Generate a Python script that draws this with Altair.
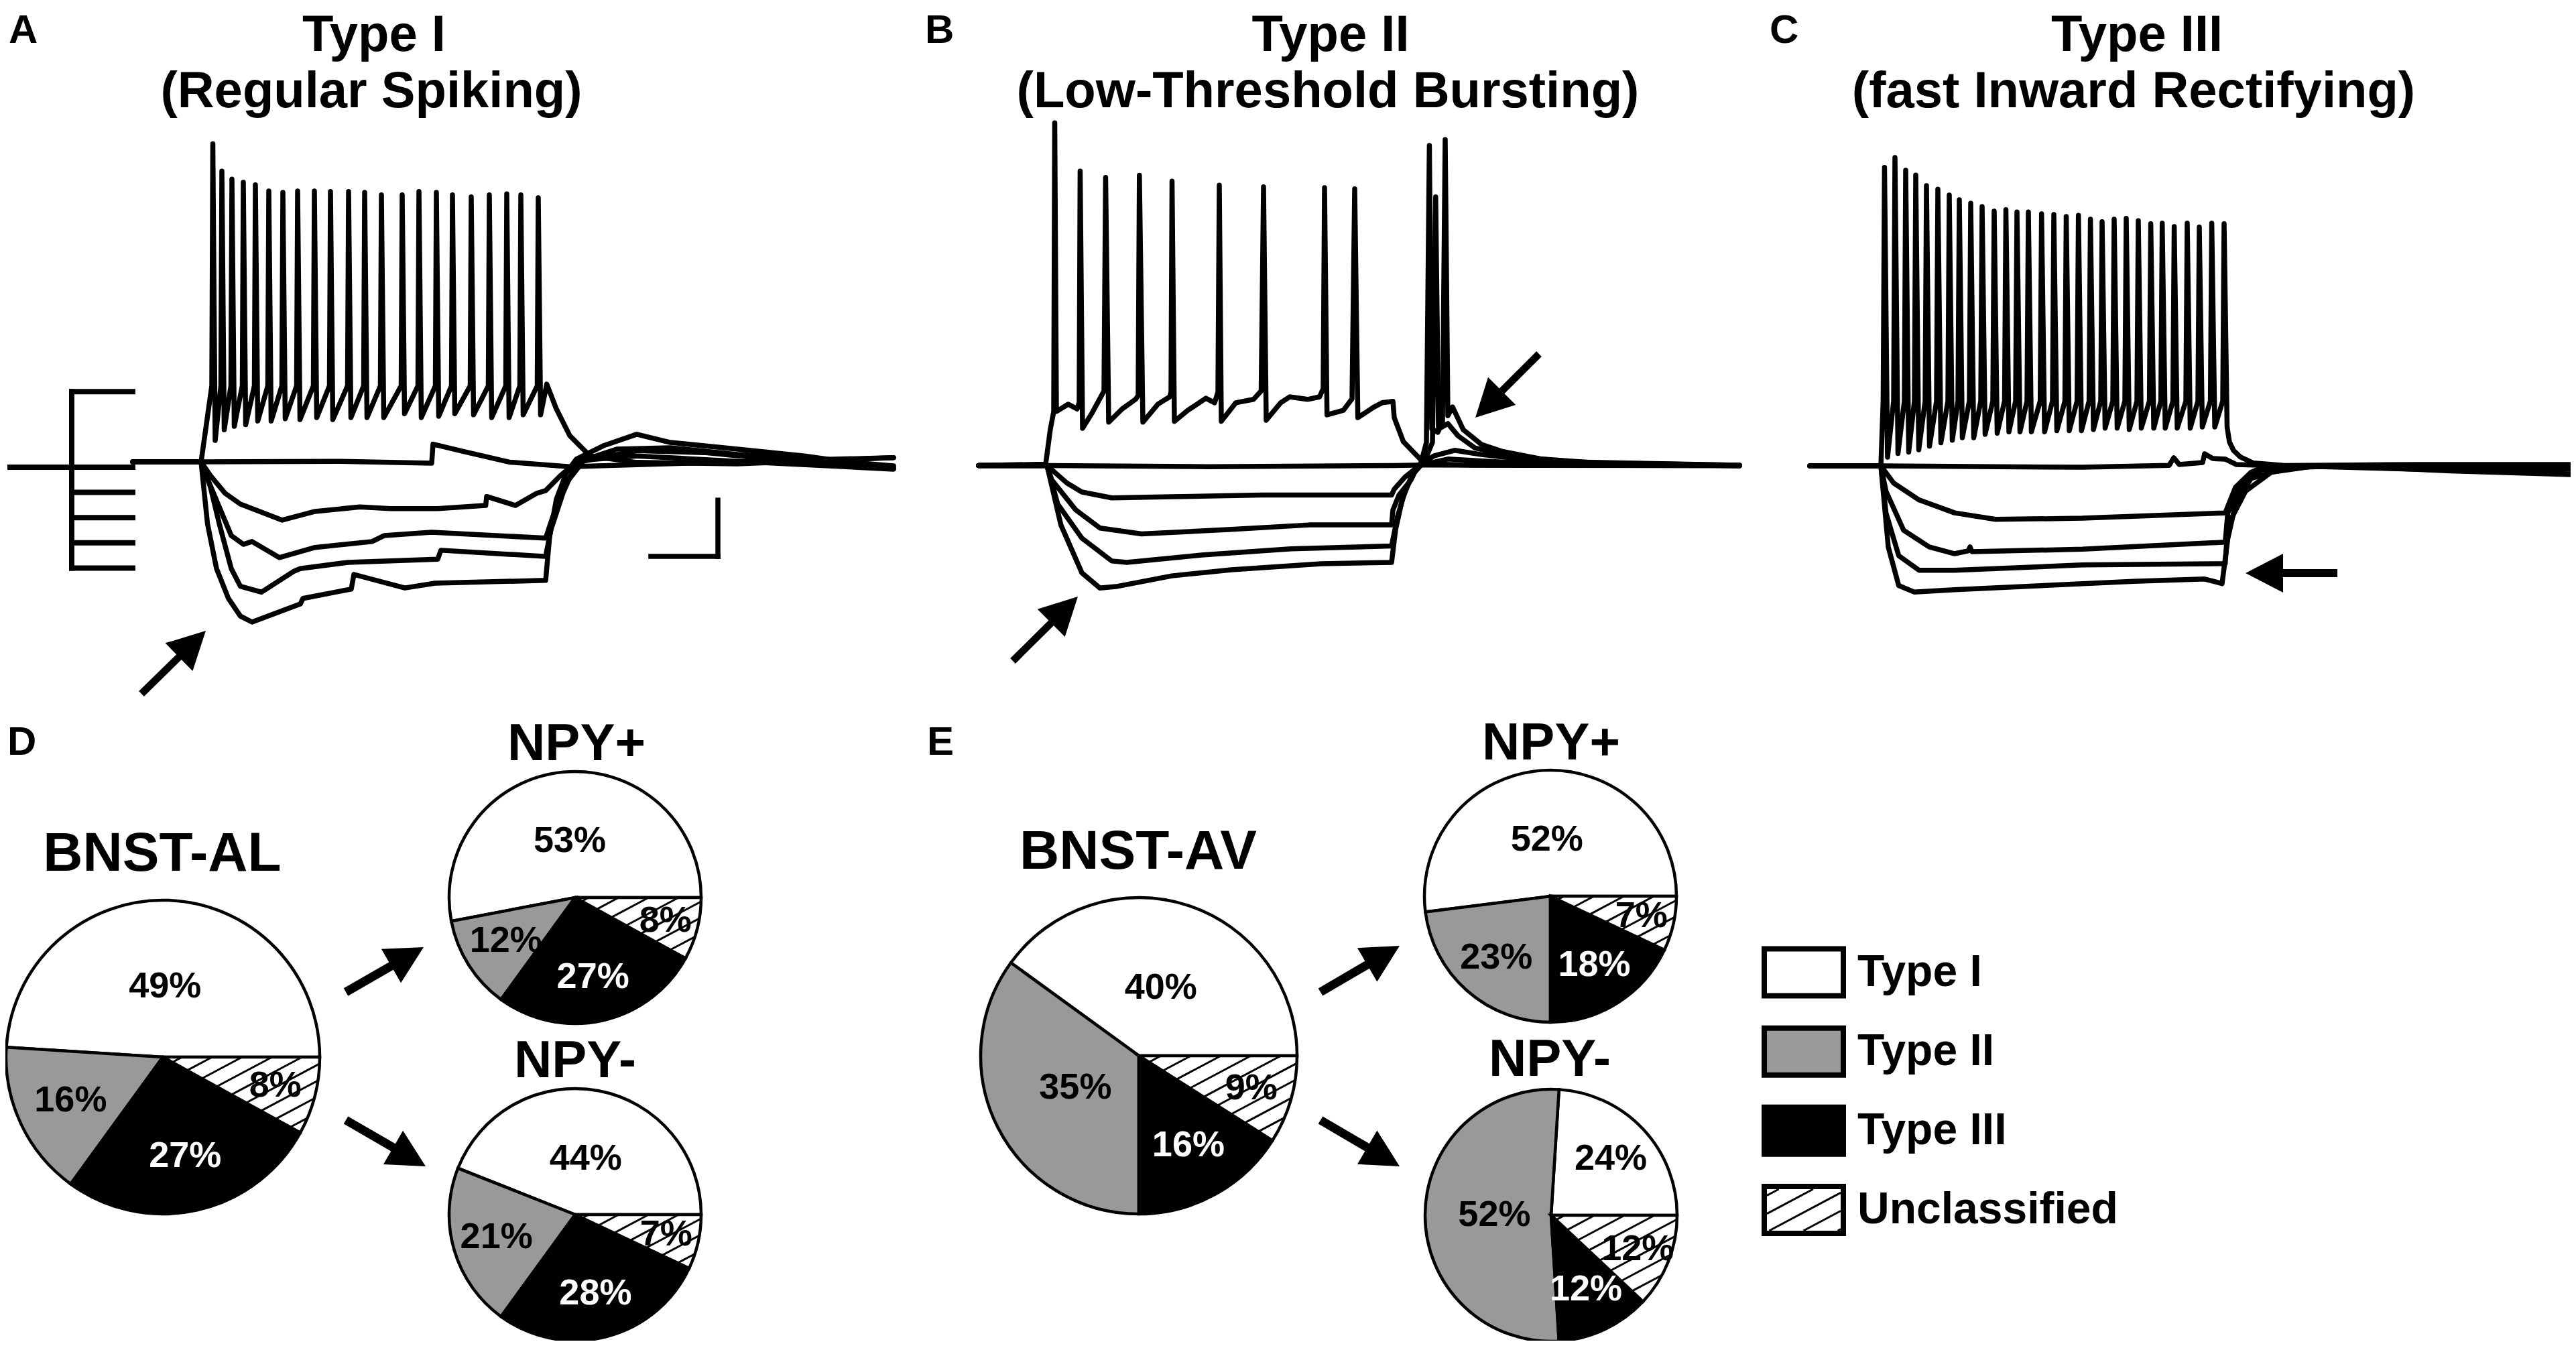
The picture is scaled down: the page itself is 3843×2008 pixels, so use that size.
import math
import altair as alt
import pandas as pd

# ====================== DATA ======================
# Current-clamp traces: t = ms from current-step onset, V = membrane potential (mV)

# ---- Panel A : Type I (regular spiking)
A_SPIKE_T = [17.5, 31, 46, 63, 81, 101, 122, 144, 169, 193, 220, 244, 269, 300, 325,
             351, 375, 403, 430, 456, 477, 503]
A_SPIKE_PEAK = [48.0, 38.3, 35.4, 34.3, 33.4, 31.2, 30.7, 31.2, 31.2, 31.0, 31.0, 30.7,
                29.8, 29.8, 31.0, 30.7, 29.8, 29.1, 29.8, 30.2, 29.8, 28.8]
A_SPIKE_AHP = [-57.4, -53.6, -52.4, -51.8, -50.5, -50.5, -49.7, -50.0, -49.3, -50.0, -49.3,
               -49.3, -49.3, -47.9, -49.3, -48.8, -47.9, -48.3, -49.3, -49.3, -48.3, -48.3]
A_SPIKE_THRESHOLD = -38.0
A_SPIKING_START = [(-102, -65.0), (0, -65.0)]
A_SPIKING_END = [(515.7, -37.4), (530, -46.2), (550, -55.7), (580, -62.9), (650, -65.2),
                 (800, -65.7), (1033, -63.5)]
A_SUBTHRESHOLD = [(-102, -65.0), (0, -65.0), (200, -64.8), (344, -65.5), (346, -58.7),
                  (393, -61.4), (460, -65.1), (550, -66.7), (650, -66.0), (800, -65.0),
                  (1033, -63.5)]
A_HYPER_1 = [(-102, -65.0), (0, -65.0), (14, -69.9), (36, -76.2), (58.6, -80.0), (121, -85.7),
             (170, -82.6), (237, -81.0), (282, -81.6), (353, -81.6), (424.6, -80.5),
             (426, -77.3), (469, -80.5), (500.5, -76.2), (514, -75.2), (536, -69.9),
             (563, -64.5), (650, -62.9), (800, -64.8), (1033, -67.6)]
A_HYPER_2 = [(-102, -65.0), (0, -65.0), (9.5, -71.0), (31.8, -83.7), (45, -91.2), (63, -94.3),
             (76, -93.3), (116.6, -99.0), (170, -95.4), (255, -93.3), (273, -91.2),
             (344, -90.0), (514, -92.1), (525, -84.3), (545, -72.4), (570, -64.8),
             (650, -61.0), (750, -61.7), (850, -64.0), (1033, -66.9)]
A_HYPER_3 = [(-102, -65.0), (0, -65.0), (14, -74.0), (27, -86.9), (45, -102.9), (58.6, -109.2),
             (90, -111.3), (139, -103.8), (148, -102.9), (219, -100.7), (353, -99.6),
             (357.7, -96.4), (514, -98.6), (522, -89.0), (540, -76.0), (560, -65.2),
             (620, -60.5), (700, -60.0), (800, -62.4), (900, -63.8), (1033, -66.4)]
A_HYPER_4 = [(-102, -65.0), (0, -65.0), (9.5, -86.9), (23, -102.9), (40.7, -113.5),
             (58.6, -119.8), (76, -121.9), (148, -115.5), (152, -113.5), (224, -110.2),
             (228, -105.0), (304, -109.8), (349, -108.1), (514, -107.1), (520, -91.4),
             (530, -78.3), (545, -68.8), (560, -64.0), (600, -59.3), (650, -55.2),
             (700, -58.1), (800, -60.5), (900, -62.9), (1033, -67.4)]
A_STEP_CURRENTS_PA = [150, 0, -50, -100, -150, -200]

# ---- Panel B : Type II (low-threshold bursting)
B_SPIKING = [(-102, -65.0), (-2, -64.5), (4.8, -52.3), (10, -45.8), (11.5, 56.7), (14, -45.8),
             (31.6, -43.2), (45, -44.9), (48, -42.5), (49.4, 39.6), (53, -51.8), (67, -46.4),
             (85, -38.5), (87.4, 37.3), (92, -49.6), (112, -44.9), (132, -41.5), (136, -40.1),
             (137.8, 38.1), (143, -49.6), (165.5, -43.2), (183, -40.6), (185, -38.9),
             (186.5, 36.0), (190, -49.3), (210, -45.4), (237, -41.1), (250, -42.7),
             (255, -38.9), (257, 34.6), (260, -49.3), (281.6, -42.7), (308, -41.5),
             (319.5, -38.5), (323, 34.0), (327, -48.9), (348.5, -42.7), (362, -40.6),
             (388.7, -41.5), (406.6, -40.6), (412, -37.7), (414, 33.7), (417.7, -47.0),
             (442, -45.4), (455, -41.3), (459, 33.3), (463.7, -48.0), (487, -44.3),
             (500, -42.7), (516, -42.2), (518, -48.0), (531.6, -56.5), (549, -60.8),
             (558, -63.0), (567, -64.4), (638, -64.9), (1033, -65.0)]
B_SUBTHRESHOLD = [(-102, -65.0), (0, -65.0), (240, -65.4), (400, -65.2), (518, -65.0),
                  (560, -64.8), (1033, -65.0)]
B_HYPER_1 = [(-102, -65.0), (0, -65.0), (29.6, -71.2), (52, -74.4), (96.6, -76.5),
             (186, -76.1), (320, -75.5), (514, -75.5), (518, -73.4), (534, -69.1),
             (556, -64.9), (598, -62.7), (658, -63.5), (738, -64.4), (1033, -65.0)]
B_HYPER_2 = [(-102, -65.0), (0, -65.0), (7, -70.1), (43, -80.8), (79, -87.2), (141, -89.3),
             (275, -87.7), (391, -86.1), (514, -86.1), (516, -80.8), (525, -75.5),
             (543, -70.1), (553, -65.1), (578, -61.5), (608, -59.6), (648, -61.1),
             (738, -63.5), (1033, -64.9)]
B_HYPER_3 = [(-102, -65.0), (0, -65.0), (16, -78.7), (52, -90.8), (96.6, -98.9), (119, -99.4),
             (230.5, -96.8), (364, -94.6), (514, -93.6), (523, -83.0), (535, -73.5),
             (548, -67.5), (563, -63.5), (575, -56.8), (579.8, 30.4), (584, -52.0),
             (598, -50.1), (613, -54.4), (638, -58.7), (688, -61.5), (788, -63.9),
             (1033, -64.9)]
B_HYPER_4 = [(-102, -65.0), (0, -65.0), (20.7, -86.1), (52, -103.1), (78.7, -108.5),
             (105.5, -107.9), (186, -104.2), (275, -102.0), (409, -99.9), (514, -99.4),
             (520, -87.8), (530, -77.0), (543, -69.2), (558, -63.9), (566, -56.8),
             (570.4, 48.7), (574, -52.0), (583, -53.2), (590, -49.6), (594, 50.8),
             (598, -47.3), (605, -44.2), (621, -52.3), (648, -57.5), (678, -59.9),
             (738, -62.7), (838, -64.4), (1033, -65.1)]

# ---- Panel C : Type III (fast inward rectifying)
C_SPIKE_T = [5.4, 21, 37, 52, 68, 85, 102, 117, 134, 151, 169, 186.5, 203, 220, 239.7,
             258, 276.5, 294.7, 312.6, 330, 348, 366, 384, 402.6, 419.7, 437.6, 457, 475,
             493.6, 512]
C_SPIKE_PEAK = [41.0, 44.5, 40.0, 38.3, 34.5, 33.3, 31.2, 29.5, 28.3, 27.1, 25.5, 26.0, 25.2,
                25.2, 24.5, 24.3, 23.6, 24.0, 22.6, 21.7, 22.6, 22.9, 22.1, 21.0, 21.2, 20.0,
                21.2, 19.8, 21.2, 21.0]
C_SPIKE_AHP = [-61.9, -60.6, -60.1, -59.3, -58.0, -56.8, -55.9, -55.0, -55.0, -53.8, -53.4,
               -52.9, -52.9, -52.9, -52.9, -52.5, -52.5, -52.5, -52.1, -51.6, -51.6, -52.1,
               -51.6, -51.6, -51.6, -51.6, -51.6, -51.2, -51.2, -51.2]
C_SPIKE_THRESHOLD = -42.0
C_SPIKING_START = [(-106, -65.0), (0, -65.0)]
C_SPIKING_END = [(520, -56.5), (526, -59.5), (536, -61.8), (556, -64.0), (600, -64.8),
                 (1030, -65.0)]
C_SUBTHRESHOLD = [(-106, -65.0), (0, -65.0), (300, -65.5), (430, -64.8), (437, -62.1),
                  (445, -64.5), (480, -63.8), (483, -60.7), (495, -62.4), (513.7, -62.6),
                  (530, -64.5), (600, -65.0), (1030, -64.8)]
C_HYPER_1 = [(-106, -65.0), (0, -65.0), (19, -71.1), (57, -77.1), (110, -81.7), (171, -84.0),
             (300.6, -83.6), (513.7, -81.7), (529, -72.6), (552, -67.3), (574.6, -65.0),
             (800, -64.5), (1030, -64.5)]
C_HYPER_2 = [(-106, -65.0), (0, -65.0), (7.6, -74.0), (34, -87.9), (72, -93.8), (110, -96.2),
             (130, -95.2), (133, -93.8), (136, -95.5), (300.6, -94.6), (513.7, -92.1),
             (517.5, -81.7), (536.5, -72.6), (567, -66.5), (605, -65.0), (800, -65.5),
             (1030, -66.2)]
C_HYPER_3 = [(-106, -65.0), (0, -65.0), (7.6, -81.7), (26.6, -96.9), (57, -102.1),
             (110, -102.1), (300.6, -100.2), (513.7, -99.7), (517.5, -86.2), (544, -74.0),
             (582, -67.3), (643, -65.2), (850, -66.5), (1030, -67.9)]
C_HYPER_4 = [(-106, -65.0), (0, -65.0), (11, -93.8), (26.6, -107.5), (49.5, -109.8),
             (110, -109.0), (377, -106.0), (483, -105.2), (509, -106.8), (517.5, -90.9),
             (529, -78.7), (552, -69.5), (605, -65.7), (681, -65.0), (850, -66.8),
             (1030, -68.1)]

# ---- Panels D / E : firing-type proportions (%)
TYPES = ["Type I", "Type II", "Type III", "Unclassified"]
BNST_AL = [49, 16, 27, 8]
BNST_AL_NPY_POS = [53, 12, 27, 8]
BNST_AL_NPY_NEG = [44, 21, 28, 7]
BNST_AV = [40, 35, 16, 9]
BNST_AV_NPY_POS = [52, 23, 18, 7]
BNST_AV_NPY_NEG = [24, 52, 12, 12]

# ====================== STYLE / LAYOUT ======================
FONT = "Liberation Sans, Arial, Helvetica, sans-serif"
CANVAS_W, CANVAS_H = 3827, 1992
M = 8                      # page margin: page px -> chart px
PX_PER_MS = 1.0
PX_PER_MV = 4.2
V_REST = -65.0
T_DOMAIN = [-110, 1040]
V_DOMAIN = [-130, 60]
TRACE_W = 7.5
FILLS = ["white", "#999999", "black", "white"]
STACK_ORDER = {"Unclassified": 0, "Type III": 1, "Type II": 2, "Type I": 3}
LABEL_COLOR = {"Type I": "black", "Type II": "black", "Type III": "white", "Unclassified": "black"}
THETA_SCALE = dict(domain=[0, 100], range=[math.pi / 2, math.pi * 2.5])

layers = []


def panel_scales(x_on, y_base):
    xs = alt.Scale(domain=T_DOMAIN,
                   range=[x_on - M + T_DOMAIN[0] * PX_PER_MS, x_on - M + T_DOMAIN[1] * PX_PER_MS],
                   zero=False, nice=False)
    ys = alt.Scale(domain=V_DOMAIN,
                   range=[y_base - M - (V_DOMAIN[0] - V_REST) * PX_PER_MV,
                          y_base - M - (V_DOMAIN[1] - V_REST) * PX_PER_MV],
                   zero=False, nice=False)
    return xs, ys


def spiking(start, times, peaks, ahps, thr, end, rise, fall):
    assert len(times) == len(peaks) == len(ahps)
    pts = list(start)
    for t, p, a in zip(times, peaks, ahps):
        pts += [(t - rise, thr), (t, p), (t + fall, a)]
    return pts + list(end)


def trace_layer(traces, x_on, y_base):
    rows = []
    for name, pts in traces.items():
        for i, (t, v) in enumerate(pts):
            rows.append({"trace": name, "i": i, "t": t, "v": v})
    xs, ys = panel_scales(x_on, y_base)
    return alt.Chart(pd.DataFrame(rows)).mark_line(
        color="black", strokeWidth=TRACE_W, strokeJoin="round", strokeCap="round"
    ).encode(
        x=alt.X("t:Q", scale=xs, axis=None),
        y=alt.Y("v:Q", scale=ys, axis=None),
        detail="trace:N",
        order="i:Q",
    )


def text(s, x, y, size, align="center", baseline="alphabetic"):
    return alt.Chart(pd.DataFrame({"s": [s]})).mark_text(
        font=FONT, fontSize=size, fontWeight="bold", align=align, baseline=baseline, color="black"
    ).encode(x=alt.value(x - M), y=alt.value(y - M), text="s:N")


HEAD_PATH = "M0,-1L1.04,1L-1.04,1Z"


def arrow(tail, tip, shaft=11, head=56):
    (x0, y0), (x1, y1) = tail, tip
    dx, dy = x1 - x0, y1 - y0
    L = math.hypot(dx, dy)
    ux, uy = dx / L, dy / L
    hx, hy = x1 - ux * head / 2, y1 - uy * head / 2
    ang = math.degrees(math.atan2(dx, -dy)) % 360
    one = pd.DataFrame({"a": [0]})
    body = alt.Chart(one).mark_rule(color="black", strokeWidth=shaft, strokeCap="butt").encode(
        x=alt.value(x0 - M), y=alt.value(y0 - M), x2=alt.value(hx - M), y2=alt.value(hy - M))
    tipm = alt.Chart(one).mark_point(shape=HEAD_PATH, size=head * head, angle=ang, filled=True,
                                     color="black", opacity=1, strokeWidth=0).encode(
        x=alt.value(hx - M), y=alt.value(hy - M))
    return [body, tipm]


def clip(p0, d, cons, lo, hi):
    for A, B in cons:          # constraint A + s*B <= 0
        if abs(B) < 1e-12:
            if A > 0:
                return None
        elif B > 0:
            hi = min(hi, -A / B)
        else:
            lo = max(lo, -A / B)
    if hi - lo <= 1e-9:
        return None
    return (p0[0] + lo * d[0], p0[1] + lo * d[1], p0[0] + hi * d[0], p0[1] + hi * d[1])


def cross(a, b):
    return a[0] * b[1] - a[1] * b[0]


HATCH_DEG = 28


def wedge_hatch(pct, step):
    th1, th2 = math.radians(90.0), math.radians(90.0 + 3.6 * pct)
    a1 = (math.sin(th1), math.cos(th1))
    a2 = (math.sin(th2), math.cos(th2))
    phi = math.radians(HATCH_DEG)
    d = (math.cos(phi), math.sin(phi))
    n = (-math.sin(phi), math.cos(phi))
    segs = []
    c = -1 + step / 2
    while c < 1:
        p0 = (c * n[0], c * n[1])
        half = math.sqrt(max(0.0, 1 - c * c))
        cons = [(cross(a1, p0), cross(a1, d)), (-cross(a2, p0), -cross(a2, d))]
        s = clip(p0, d, cons, -half, half)
        if s:
            segs.append(s)
        c += step
    return segs


def rect_hatch(hw, hh, step):
    phi = math.radians(HATCH_DEG)
    d = (math.cos(phi), math.sin(phi))
    n = (-math.sin(phi), math.cos(phi))
    R = math.hypot(hw, hh)
    segs = []
    c = -R + step / 2
    while c < R:
        p0 = (c * n[0], c * n[1])
        cons = [(-hw - p0[0], -d[0]), (p0[0] - hw, d[0]), (-hh - p0[1], -d[1]), (p0[1] - hh, d[1])]
        s = clip(p0, d, cons, -2 * R, 2 * R)
        if s:
            segs.append(s)
        c += step
    return segs


def label_frac(t, p):
    if t == "Unclassified":
        return 0.74
    if p >= 35:
        return 0.45
    return 0.65


def pie(vals, cx, cy, r):
    assert len(vals) == len(TYPES)
    df = pd.DataFrame({"type": TYPES, "pct": vals})
    df["k"] = df["type"].map(STACK_ORDER)
    # middle of each slice along the stacked angle axis (same stacking order as the arcs)
    starts = {}
    acc = 0
    for t in sorted(TYPES, key=lambda s: STACK_ORDER[s]):
        starts[t] = acc
        acc += vals[TYPES.index(t)]
    df["mid"] = [starts[t] + p / 2 for t, p in zip(TYPES, vals)]
    df["lab"] = [f"{p}%" for p in vals]
    df["lr"] = [r * label_frac(t, p) for t, p in zip(TYPES, vals)]
    df["lc"] = df["type"].map(LABEL_COLOR)
    xc, yc = alt.value(cx - M), alt.value(cy - M)
    arcs = alt.Chart(df).mark_arc(radius=r, stroke="black", strokeWidth=4.5).encode(
        theta=alt.Theta("pct:Q", stack=True, scale=alt.Scale(**THETA_SCALE)),
        order=alt.Order("k:Q"), x=xc, y=yc,
        fill=alt.Fill("type:N", scale=alt.Scale(domain=TYPES, range=FILLS), legend=None))
    segs = wedge_hatch(vals[3], 21.0 / r)
    hdf = pd.DataFrame(segs, columns=["x1", "y1", "x2", "y2"])
    hx = alt.Scale(domain=[-1, 1], range=[cx - M - r, cx - M + r], zero=False, nice=False)
    hy = alt.Scale(domain=[-1, 1], range=[cy - M + r, cy - M - r], zero=False, nice=False)
    hatch = alt.Chart(hdf).mark_rule(color="black", strokeWidth=3).encode(
        x=alt.X("x1:Q", scale=hx, axis=None), y=alt.Y("y1:Q", scale=hy, axis=None),
        x2="x2:Q", y2="y2:Q")
    labels = alt.Chart(df).mark_text(font=FONT, fontSize=54, fontWeight="bold",
                                     align="center", baseline="middle").encode(
        theta=alt.Theta("mid:Q", stack=None, scale=alt.Scale(**THETA_SCALE)),
        x=xc, y=yc,
        radius=alt.Radius("lr:Q", scale=None), text="lab:N",
        color=alt.Color("lc:N", scale=None))
    return [arcs, hatch, labels]


# ---------------- traces ----------------
A_ON, A_BASE = 300, 689
B_ON, B_BASE = 1562, 694.5
C_ON, C_BASE = 2806, 695

a_spk = spiking(A_SPIKING_START, A_SPIKE_T, A_SPIKE_PEAK, A_SPIKE_AHP, A_SPIKE_THRESHOLD,
                A_SPIKING_END, 1.5, 3.5)
layers.append(trace_layer({"spk": a_spk, "sub": A_SUBTHRESHOLD, "h1": A_HYPER_1,
                           "h2": A_HYPER_2, "h3": A_HYPER_3, "h4": A_HYPER_4}, A_ON, A_BASE))
layers.append(trace_layer({"spk": B_SPIKING, "sub": B_SUBTHRESHOLD, "h1": B_HYPER_1,
                           "h2": B_HYPER_2, "h3": B_HYPER_3, "h4": B_HYPER_4}, B_ON, B_BASE))
c_spk = spiking(C_SPIKING_START, C_SPIKE_T, C_SPIKE_PEAK, C_SPIKE_AHP, C_SPIKE_THRESHOLD,
                C_SPIKING_END, 2.0, 4.5)
layers.append(trace_layer({"spk": c_spk, "sub": C_SUBTHRESHOLD, "h1": C_HYPER_1,
                           "h2": C_HYPER_2, "h3": C_HYPER_3, "h4": C_HYPER_4}, C_ON, C_BASE))

# scale bar (100 ms, 20 mV) in panel A units
xs_a, ys_a = panel_scales(A_ON, A_BASE)
sb = pd.DataFrame({"t": [671, 771], "v": [-98.6, -98.6], "t2": [771, 771], "v2": [-98.6, -78.6]})
layers.append(alt.Chart(sb).mark_rule(color="black", strokeWidth=7.5, strokeCap="square").encode(
    x=alt.X("t:Q", scale=xs_a, axis=None), y=alt.Y("v:Q", scale=ys_a, axis=None),
    x2="t2:Q", y2="v2:Q"))

# current-step protocol icon (panel A)
PA_SCALE = alt.Scale(domain=[-200, 150], range=[847.4 - M, 584.2 - M], zero=False, nice=False)
prot = pd.DataFrame({"pa": A_STEP_CURRENTS_PA})
layers.append(alt.Chart(prot).mark_rule(color="black", strokeWidth=8, strokeCap="square").encode(
    x=alt.value(107 - M), x2=alt.value(198 - M), y=alt.Y("pa:Q", scale=PA_SCALE, axis=None)))
layers.append(alt.Chart(prot[prot["pa"] == 0]).mark_rule(color="black", strokeWidth=8).encode(
    x=alt.value(11 - M), x2=alt.value(107 - M), y=alt.Y("pa:Q", scale=PA_SCALE, axis=None)))
pv = pd.DataFrame({"lo": [min(A_STEP_CURRENTS_PA)], "hi": [max(A_STEP_CURRENTS_PA)]})
layers.append(alt.Chart(pv).mark_rule(color="black", strokeWidth=8, strokeCap="square").encode(
    x=alt.value(107 - M), y=alt.Y("lo:Q", scale=PA_SCALE, axis=None), y2="hi:Q"))

# arrows
layers += arrow((211, 1035), (307, 941))
layers += arrow((1511, 986), (1608, 890))
layers += arrow((2296, 528), (2201, 623))
layers += arrow((3487, 855), (3350, 855), shaft=12)
layers += arrow((516, 1480), (632, 1413), shaft=13)
layers += arrow((516, 1671), (635, 1740), shaft=13)
layers += arrow((1970, 1480), (2088, 1411), shaft=13)
layers += arrow((1970, 1671), (2088, 1740), shaft=13)

# ---------------- pies ----------------
layers += pie(BNST_AL, 243, 1577, 234)
layers += pie(BNST_AL_NPY_POS, 858, 1339, 188)
layers += pie(BNST_AL_NPY_NEG, 858, 1812, 188)
layers += pie(BNST_AV, 1699, 1575, 236)
layers += pie(BNST_AV_NPY_POS, 2313, 1337, 188)
layers += pie(BNST_AV_NPY_NEG, 2314, 1813, 188)

# ---------------- legend ----------------
LEG_X = 2691
LEG_Y = [1450.5, 1805]
BOX_PATH = "M-1,-0.593L1,-0.593L1,0.593L-1,0.593Z"
leg = pd.DataFrame({"type": TYPES, "row": list(range(len(TYPES)))})
leg_y = alt.Scale(domain=[0, len(TYPES) - 1], range=[LEG_Y[0] - M, LEG_Y[1] - M], zero=False, nice=False)
layers.append(alt.Chart(leg).mark_point(shape=BOX_PATH, size=118 * 118, filled=True, stroke="black",
                                        strokeWidth=8, opacity=1, fillOpacity=1).encode(
    x=alt.value(LEG_X - M), y=alt.Y("row:Q", scale=leg_y, axis=None),
    fill=alt.Fill("type:N", scale=alt.Scale(domain=TYPES, range=FILLS), legend=None)))
lh = pd.DataFrame(rect_hatch(55, 31, 24), columns=["x1", "y1", "x2", "y2"])
ly4 = LEG_Y[1]
layers.append(alt.Chart(lh).mark_rule(color="black", strokeWidth=3).encode(
    x=alt.X("x1:Q", scale=alt.Scale(domain=[-59, 59], range=[LEG_X - M - 59, LEG_X - M + 59],
                                    zero=False, nice=False), axis=None),
    y=alt.Y("y1:Q", scale=alt.Scale(domain=[-35, 35], range=[ly4 - M + 35, ly4 - M - 35],
                                    zero=False, nice=False), axis=None),
    x2="x2:Q", y2="y2:Q"))
layers.append(alt.Chart(leg).mark_text(font=FONT, fontSize=66, fontWeight="bold", align="left",
                                       baseline="middle", color="black").encode(
    x=alt.value(2771 - M), y=alt.Y("row:Q", scale=leg_y, axis=None), text="type:N"))

# ---------------- texts ----------------
layers += [
    text("A", 13, 64, 60, align="left"),
    text("B", 1380, 64, 60, align="left"),
    text("C", 2640, 64, 60, align="left"),
    text("D", 11, 1126, 60, align="left"),
    text("E", 1383, 1126, 60, align="left"),
    text("Type I", 558, 76, 76),
    text("(Regular Spiking)", 554, 160, 76),
    text("Type II", 1985, 76, 76),
    text("(Low-Threshold Bursting)", 1981, 160, 76),
    text("Type III", 3188, 76, 76),
    text("(fast Inward Rectifying)", 3183, 160, 76),
    text("BNST-AL", 242, 1299, 82),
    text("BNST-AV", 1698, 1296, 82),
    text("NPY+", 860, 1134, 78),
    text("NPY-", 858, 1607, 78),
    text("NPY+", 2314, 1133, 78),
    text("NPY-", 2312, 1605, 78),
]

chart = alt.layer(*layers).resolve_scale(
    x="independent", y="independent", theta="independent", fill="independent", color="independent"
).properties(
    width=CANVAS_W, height=CANVAS_H, padding=0, autosize=alt.AutoSizeParams(type="none")
).configure_view(stroke=None)

chart.save("out.html", embed_options={"renderer": "svg", "actions": False})
